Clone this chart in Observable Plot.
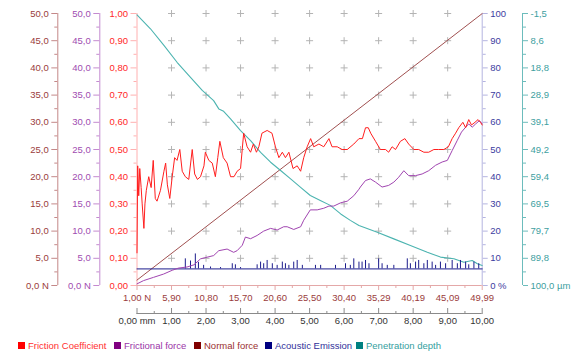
<!DOCTYPE html>
<html><head><meta charset="utf-8">
<script src="https://cdn.jsdelivr.net/npm/d3@7"></script>
<script src="https://cdn.jsdelivr.net/npm/@observablehq/plot@0.6"></script>
<style>
body{margin:0;background:#fff;font-family:"Liberation Sans",Arial,sans-serif;}
#legend{position:relative;height:13px;font-size:9.5px;line-height:13px;}
.item{position:absolute;top:0;display:flex;align-items:center;white-space:nowrap}
.sw{width:7px;height:7px;margin-right:3px;display:inline-block}
</style></head><body><div id="chart"></div><div id="legend"></div><script>
// ---- data (x in mm of sliding distance) ----
const friction = [[0.00,0.12],[0.02,0.44],[0.05,0.33],[0.08,0.43],[0.12,0.36],[0.15,0.30],[0.20,0.21],[0.23,0.30],[0.27,0.35],[0.34,0.40],[0.41,0.36],[0.47,0.46],[0.53,0.32],[0.58,0.31],[0.68,0.35],[0.78,0.42],[0.83,0.45],[0.88,0.37],[0.95,0.32],[1.02,0.40],[1.09,0.47],[1.16,0.46],[1.24,0.50],[1.31,0.42],[1.40,0.40],[1.50,0.39],[1.60,0.50],[1.67,0.41],[1.75,0.39],[1.84,0.40],[1.94,0.44],[1.98,0.49],[2.08,0.46],[2.18,0.45],[2.27,0.40],[2.34,0.47],[2.40,0.53],[2.50,0.47],[2.61,0.45],[2.71,0.40],[2.81,0.40],[2.90,0.42],[3.00,0.43],[3.09,0.56],[3.19,0.51],[3.29,0.49],[3.37,0.52],[3.46,0.49],[3.53,0.51],[3.62,0.56],[3.77,0.57],[3.91,0.56],[4.01,0.51],[4.11,0.47],[4.21,0.49],[4.30,0.47],[4.40,0.49],[4.52,0.43],[4.64,0.44],[4.74,0.42],[4.83,0.47],[4.93,0.51],[5.03,0.54],[5.12,0.51],[5.27,0.52],[5.41,0.51],[5.56,0.54],[5.65,0.51],[5.80,0.51],[5.94,0.50],[6.09,0.50],[6.28,0.52],[6.43,0.54],[6.53,0.54],[6.62,0.58],[6.70,0.58],[6.77,0.56],[6.91,0.53],[7.05,0.50],[7.20,0.50],[7.29,0.49],[7.39,0.51],[7.49,0.50],[7.63,0.53],[7.76,0.54],[7.87,0.52],[8.02,0.50],[8.16,0.50],[8.31,0.49],[8.45,0.49],[8.60,0.50],[8.74,0.50],[8.89,0.50],[9.02,0.51],[9.13,0.54],[9.23,0.56],[9.32,0.58],[9.44,0.60],[9.52,0.58],[9.61,0.61],[9.69,0.59],[9.79,0.60],[9.88,0.61],[9.95,0.60],[10.00,0.59]];
const frictionalForce = [[0.00,0.3],[0.19,0.9],[0.48,1.5],[0.77,2.1],[1.02,2.8],[1.20,3.2],[1.45,3.4],[1.65,3.8],[1.84,4.9],[2.03,5.2],[2.22,5.5],[2.37,6.4],[2.61,6.7],[2.80,6.1],[2.90,6.4],[3.05,7.4],[3.14,8.9],[3.29,8.6],[3.48,9.2],[3.67,10.0],[3.87,10.5],[4.06,10.2],[4.25,10.8],[4.35,10.8],[4.54,10.3],[4.74,10.8],[4.83,12.0],[5.02,13.9],[5.22,13.9],[5.41,14.2],[5.56,14.6],[5.70,14.6],[5.90,15.2],[6.09,15.5],[6.28,16.5],[6.43,17.7],[6.47,18.1],[6.62,19.3],[6.76,19.6],[6.91,19.0],[7.10,18.1],[7.29,18.4],[7.44,19.0],[7.58,19.9],[7.73,21.1],[7.87,20.2],[8.07,20.2],[8.26,20.5],[8.45,21.1],[8.65,22.1],[8.84,22.7],[8.99,23.0],[9.13,24.8],[9.28,26.7],[9.40,28.2],[9.52,29.1],[9.61,29.7],[9.71,29.1],[9.81,29.7],[9.92,30.3],[10.00,29.7]];
const normalForce = [[0.00,1.00],[10.00,49.99]];
const penetration = [[0.00,-1.0],[0.39,4.2],[0.78,10.4],[1.16,16.7],[1.55,22.3],[1.89,27.2],[2.22,31.0],[2.37,34.1],[2.51,35.0],[2.71,37.8],[3.00,42.2],[3.29,45.9],[3.58,50.3],[3.87,54.0],[4.16,57.1],[4.45,60.2],[4.74,63.4],[5.02,66.4],[5.31,68.3],[5.60,70.1],[5.90,73.3],[6.18,75.7],[6.43,77.6],[6.96,80.1],[7.44,82.6],[7.92,85.1],[8.41,87.6],[8.79,89.4],[9.18,90.0],[9.47,91.3],[9.71,90.7],[9.86,91.9],[10.00,92.5]];
const aeBase = [[0.00,6.1],[10.00,6.1]];
const aeSpikes = [[1.40,9.8],[1.55,9.0],[1.69,11.6],[1.78,8.5],[1.93,7.4],[2.13,6.8],[2.42,6.6],[2.76,8.0],[2.85,7.6],[3.00,6.6],[3.48,7.6],[3.58,8.6],[3.67,8.0],[3.77,9.2],[3.92,8.0],[4.06,7.4],[4.21,8.6],[4.30,8.0],[4.40,7.4],[4.54,8.6],[4.64,9.2],[4.79,7.4],[5.17,7.4],[5.32,7.4],[5.75,7.4],[6.04,8.0],[6.18,7.4],[6.28,9.8],[6.43,8.6],[6.52,8.6],[6.62,9.2],[6.72,8.0],[7.00,9.8],[7.10,8.0],[7.25,7.4],[7.44,7.4],[7.83,9.8],[7.92,8.0],[8.07,8.6],[8.16,9.2],[8.31,8.0],[8.41,9.2],[8.55,8.6],[8.65,7.4],[8.79,8.6],[8.94,8.0],[9.13,9.2],[9.28,8.0],[9.37,9.2],[9.52,8.6],[9.61,7.6],[9.76,8.6],[9.90,8.0]];

// ---- tick labels ----
const coefLabels = ["0,00","0,10","0,20","0,30","0,40","0,50","0,60","0,70","0,80","0,90","1,00"];
const forceLabels = ["0,0 N","5,0","10,0","15,0","20,0","25,0","30,0","35,0","40,0","45,0","50,0"];
const aeLabels = ["0 %","10","20","30","40","50","60","70","80","90","100"];
const depthLabels = ["100,0 µm","89,8","79,7","69,5","59,4","49,2","39,1","28,9","18,8","8,6","-1,5"];
const normalXLabels = ["1,00 N","5,90","10,80","15,70","20,60","25,50","30,40","35,29","40,19","45,09","49,99"];
const mmLabels = ["0,00 mm","1,00","2,00","3,00","4,00","5,00","6,00","7,00","8,00","9,00","10,00"];
const legendNames = ["Friction Coefficient","Frictional force","Normal force","Acoustic Emission","Penetration depth"];
const legendSwatch = ["#ff0000","#800080","#800000","#000080","#008080"];
const legendText = ["#ff3030","#9a35a8","#9a3030","#30309a","#35a0a0"];

// ---- layout helpers ----
const yMajor = d3.range(11).map(i => i / 10);
const yMinor = d3.range(10).map(i => i / 10 + 0.05);
const xMajor = d3.range(11);
const xMinor = d3.range(10).map(i => i + 0.5);
const grid = [];
for (let i = 1; i <= 9; i++) for (let j = 1; j <= 10; j++) grid.push({x: i, y: j / 10});
const cross = {draw(ctx, size) { const r = Math.sqrt(size / Math.PI); ctx.moveTo(-r, 0); ctx.lineTo(r, 0); ctx.moveTo(0, -r); ctx.lineTo(0, r); }};

function vAxis(labels, anchor, dx, lineColor, textColor, size) {
  return [
    Plot.ruleX([anchor === "left" ? 0 : 10], {dx, stroke: lineColor}),
    Plot.axisY(yMajor, {anchor, dx, tickSize: size, tickPadding: 3, stroke: lineColor, fill: textColor, tickFormat: d => labels[Math.round(d * 10)], label: null}),
    Plot.axisY(yMinor, {anchor, dx, tickSize: Math.round(size / 2), stroke: lineColor, fill: "none", label: null})
  ];
}

const chart = Plot.plot({
  width: 581, height: 339,
  marginLeft: 136.5, marginRight: 99.3, marginTop: 13, marginBottom: 54,
  x: {domain: [0, 10], axis: null},
  y: {domain: [0, 1], axis: null},
  style: {fontFamily: "Liberation Sans, Arial, sans-serif", fontSize: "9.5px", background: "#fff", overflow: "visible"},
  marks: [
    Plot.dot(grid, {x: "x", y: "y", symbol: cross, r: 3.5, stroke: "#b4b4b4", fill: "none", strokeWidth: 1}),
    // left axes
    ...vAxis(forceLabels, "left", -79.2, "#c48888", "#9a3c3c", 6),
    ...vAxis(forceLabels, "left", -37.2, "#c48ad0", "#a04cb0", 6),
    ...vAxis(coefLabels, "left", 0, "#ffb0b0", "#ff2828", 6),
    // right axes
    ...vAxis(aeLabels, "right", 0, "#b4b4e0", "#3c3ca0", 5),
    ...vAxis(depthLabels, "right", 40.3, "#6cbcbc", "#40a0a0", 5),
    // bottom normal-force axis
    Plot.ruleY([0], {stroke: "#e4a8a8"}),
    Plot.axisX(xMajor, {anchor: "bottom", tickSize: 5, stroke: "#e4a8a8", fill: "#9a3c3c", tickFormat: d => normalXLabels[d], label: null}),
    Plot.axisX(xMinor, {anchor: "bottom", tickSize: 3, stroke: "#e4a8a8", fill: "none", label: null}),
    // distance axis
    Plot.ruleY([0], {dy: 28, stroke: "#8a8a8a"}),
    Plot.axisX(xMajor, {anchor: "top", dy: 300, tickSize: 6, stroke: "#8a8a8a", fill: "none", label: null}),
    Plot.axisX(xMinor, {anchor: "top", dy: 300, tickSize: 3, stroke: "#8a8a8a", fill: "none", label: null}),
    Plot.axisX(xMajor, {anchor: "bottom", dy: 28, tickSize: 0, tickPadding: 4, fill: "#333", tickFormat: d => mmLabels[d], label: null}),
    // series
    Plot.line(normalForce, {x: d => d[0], y: d => d[1] / 50, stroke: "#a05050", strokeWidth: 1}),
    Plot.line(penetration, {x: d => d[0], y: d => (100 - d[1]) / 101.5, stroke: "#4cb4b0", strokeWidth: 1.1}),
    Plot.line(aeBase, {x: d => d[0], y: d => d[1] / 100, stroke: "#1c1c8c", strokeWidth: 1}),
    Plot.ruleX(aeSpikes, {x: d => d[0], y1: 0.061, y2: d => d[1] / 100, stroke: "#1c1c8c", strokeWidth: 1}),
    Plot.line(frictionalForce, {x: d => d[0], y: d => d[1] / 50, stroke: "#a044b0", strokeWidth: 1}),
    Plot.line(friction, {x: d => d[0], y: d => d[1], stroke: "#ff1e1e", strokeWidth: 1})
  ]
});
document.getElementById("chart").appendChild(chart);

const lx = [18, 114, 194, 265, 356];
const leg = document.getElementById("legend");
legendNames.forEach((n, i) => {
  const it = document.createElement("div");
  it.className = "item"; it.style.left = lx[i] + "px"; it.style.color = legendText[i];
  it.innerHTML = `<span class="sw" style="background:${legendSwatch[i]}"></span>${n}`;
  leg.appendChild(it);
});
</script></body></html>
